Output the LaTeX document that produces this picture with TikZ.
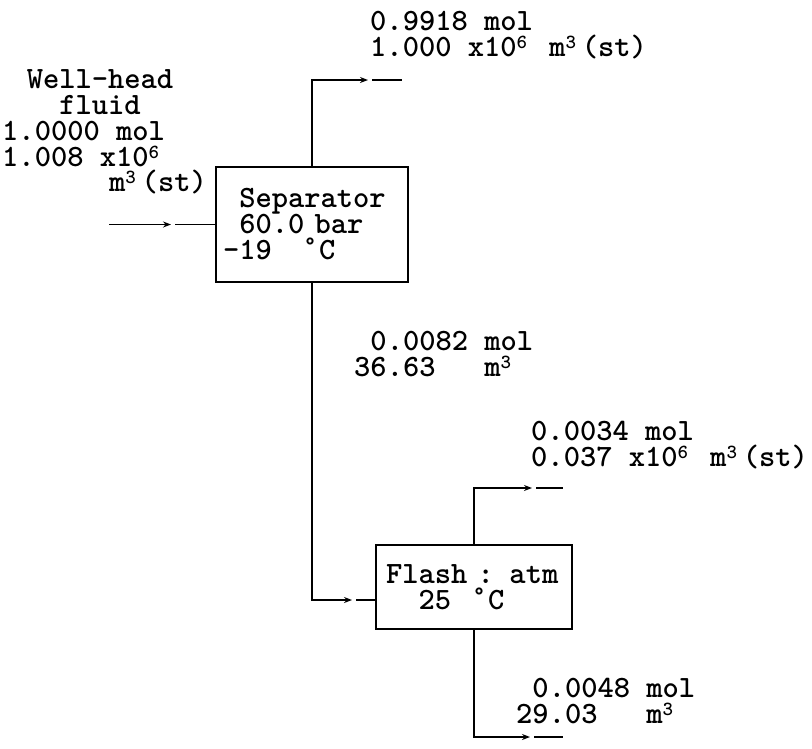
\documentclass[tikz,border=0pt]{standalone}
\usepackage{fontspec}
\usetikzlibrary{shapes,arrows.meta,positioning}
\newcommand\supcell[1]{\makebox[0.525em][l]{\raisebox{7.5pt}{\fontsize{20}{20}\selectfont #1}}}
\newcommand\degcell{\smash{\makebox[0.525em][c]{\raisebox{-7pt}{\fontsize{46}{46}\selectfont °}}}}
\newcommand\printerfont{\ttfamily\bfseries\fontsize{31}{26}\selectfont\lineskiplimit=-100pt}
\tikzset{
  printer/.style={font=\printerfont},
  unit/.style={printer, draw, line width=1.5pt, align=left},
  stream label/.style={printer, inner sep=0pt, align=left, anchor=base west},
  pipe/.style={line width=1.5pt},
  flow/.style={pipe, -{Stealth[length=8pt,width=6pt]}},
}

\begin{document}
\begin{tikzpicture}[x=1pt, y=-1pt]
\useasboundingbox (0,0) rectangle (812,748);
% units
\node[unit, text width=178pt, inner xsep=7pt, minimum height=115pt] (separator) at (312,224.5)
  {\hphantom{0}Separator\\\hphantom{0}60.0 bar\\-19~~~\degcell C};
\node[unit, text width=176pt, inner xsep=10pt, minimum height=84pt] (flash) at (474,587)
  {Flash : atm\\\hphantom{00}25~~\degcell C};
% stream labels (base = last line)
\node[stream label, anchor=base, align=center] (feed name) at (100,114) {Well-head\\fluid};
\node[stream label] (feed flow) at (2,166) {1.0000 mol\\1.008 x10\supcell{6}};
\node[stream label] (feed unit) at (109,191) {m\supcell{3}(st)};
\node[stream label] (gas label) at (370,56) {0.9918 mol\\1.000 x10\supcell{6} m\supcell{3}(st)};
\node[stream label] (liquid label) at (354,376) {\hphantom{0}0.0082 mol\\36.63~~~m\supcell{3}};
\node[stream label] (flash gas label) at (531,466) {0.0034 mol\\0.037 x10\supcell{6} m\supcell{3}(st)};
\node[stream label] (flash liquid label) at (516,723) {\hphantom{0}0.0048 mol\\29.03~~~m\supcell{3}};
% pipes
\coordinate (feed start) at (109,224.5);
\coordinate (feed tip) at (171,224.5);
\coordinate (gas tip) at (368,80);
\coordinate (gas end) at (402,80);
\coordinate (liquid tip) at (352,600);
\coordinate (flash gas tip) at (532,488);
\coordinate (flash gas end) at (563,488);
\coordinate (flash liquid tip) at (530,737);
\coordinate (flash liquid end) at (563,737);
\draw[flow] (feed start) -- (feed tip);
\draw[pipe,shorten <=4pt] (feed tip) -- (separator.west);
\draw[flow] (separator.north) |- (gas tip);
\draw[pipe,shorten <=4pt] (gas tip) -- (gas end);
\draw[flow] (separator.south) |- (liquid tip);
\draw[pipe,shorten <=4pt] (liquid tip) -- (flash.west |- liquid tip);
\draw[flow] (flash.north) |- (flash gas tip);
\draw[pipe,shorten <=4pt] (flash gas tip) -- (flash gas end);
\draw[flow] (flash.south) |- (flash liquid tip);
\draw[pipe,shorten <=4pt] (flash liquid tip) -- (flash liquid end);
\end{tikzpicture}
\end{document}
